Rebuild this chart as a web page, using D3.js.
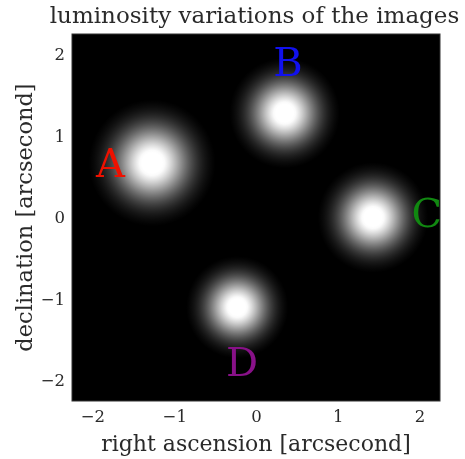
<!DOCTYPE html>
<html lang="en">
  <head>
    <meta charset="UTF-8" />
    <title>luminosity variations of the images</title>
    <script src="https://d3js.org/d3.v7.min.js"></script>
    <style>
      body { margin: 0; background: #fff; }
      svg { filter: blur(0.5px); }
      svg text { font-family: "DejaVu Serif", serif; fill: #2a2a2a; }
      .tick line { display: none; }
      .domain { display: none; }
    </style>
  </head>
  <body>
    <svg width="465" height="459"></svg>
    <script>
      const width = 465;
      const height = 459;

      // image data (arcsec)
      const names = ["A", "B", "C", "D"];
      const raValues = [-1.27, 0.35, 1.43, -0.23];
      const decValues = [0.67, 1.28, 0.0, -1.1];
      const sigmas = [0.31, 0.27, 0.27, 0.25];
      const labelRa = [-1.78, 0.39, 2.09, -0.17];
      const labelDec = [0.67, 1.91, 0.06, -1.77];
      const labelColors = ["#ee1100", "#1111ee", "#118811", "#881188"];
      const tickValues = [-2, -1, 0, 1, 2];

      const svg = d3.select("svg");

      const x = d3.scaleLinear().domain([-2.25, 2.25]).range([72, 440]);
      const y = d3.scaleLinear().domain([-2.25, 2.25]).range([401, 34]);

      // black image background
      svg.append("rect")
        .attr("x", x(-2.25))
        .attr("y", y(2.25))
        .attr("width", x(2.25) - x(-2.25))
        .attr("height", y(-2.25) - y(2.25))
        .attr("fill", "#000");

      // gaussian blobs as radial gradients, tail clipped to zero at the edge
      const defs = svg.append("defs");
      const peak = 1.12;
      const spread = 2.5; // gradient radius in sigmas
      const floor = Math.exp(-(spread * spread) / 2);
      names.forEach((n, i) => {
        const g = defs.append("radialGradient").attr("id", "blob" + n);
        d3.range(0, 1.0001, 0.04).forEach((t) => {
          const r = t * spread;
          const v = Math.min(1, peak * (Math.exp(-(r * r) / 2) - floor) / (1 - floor));
          g.append("stop")
            .attr("offset", t)
            .attr("stop-color", "#fff")
            .attr("stop-opacity", Math.max(0, v));
        });
      });

      svg.append("g")
        .selectAll("circle")
        .data(names)
        .join("circle")
        .attr("cx", (d, i) => x(raValues[i]))
        .attr("cy", (d, i) => y(decValues[i]))
        .attr("r", (d, i) => x(sigmas[i] * spread) - x(0))
        .attr("fill", (d) => `url(#blob${d})`);

      // image labels
      svg.append("g")
        .selectAll("text")
        .data(names)
        .join("text")
        .attr("x", (d, i) => x(labelRa[i]))
        .attr("y", (d, i) => y(labelDec[i]))
        .attr("text-anchor", "middle")
        .attr("dominant-baseline", "central")
        .style("font-size", "40px")
        .style("fill", (d, i) => labelColors[i])
        .text((d) => d);

      // frame
      svg.append("rect")
        .attr("x", x(-2.25))
        .attr("y", y(2.25))
        .attr("width", x(2.25) - x(-2.25))
        .attr("height", y(-2.25) - y(2.25))
        .attr("fill", "none")
        .attr("stroke", "#333")
        .attr("stroke-width", 1);

      const fmt = (d) => (d < 0 ? "\u2212" + Math.abs(d) : String(d));

      svg.append("g")
        .attr("transform", `translate(0, ${y(-2.25) + 2})`)
        .call(d3.axisBottom(x).tickValues(tickValues).tickFormat(fmt).tickSize(0).tickPadding(7))
        .selectAll("text")
        .style("font-size", "16.5px");

      svg.append("g")
        .attr("transform", `translate(${x(-2.25) - 2}, 0)`)
        .call(d3.axisLeft(y).tickValues(tickValues).tickFormat(fmt).tickSize(0).tickPadding(5))
        .selectAll("text")
        .style("font-size", "16.5px");

      // title and axis labels
      svg.append("text")
        .attr("x", 254.5)
        .attr("y", 23)
        .attr("text-anchor", "middle")
        .style("font-size", "23px")
        .text("luminosity variations of the images");

      svg.append("text")
        .attr("x", (x(-2.25) + x(2.25)) / 2)
        .attr("y", 451)
        .attr("text-anchor", "middle")
        .style("font-size", "22px")
        .text("right ascension [arcsecond]");

      svg.append("text")
        .attr("transform", `translate(32, ${(y(-2.25) + y(2.25)) / 2}) rotate(-90)`)
        .attr("text-anchor", "middle")
        .style("font-size", "22.5px")
        .text("declination [arcsecond]");
    </script>
  </body>
</html>
